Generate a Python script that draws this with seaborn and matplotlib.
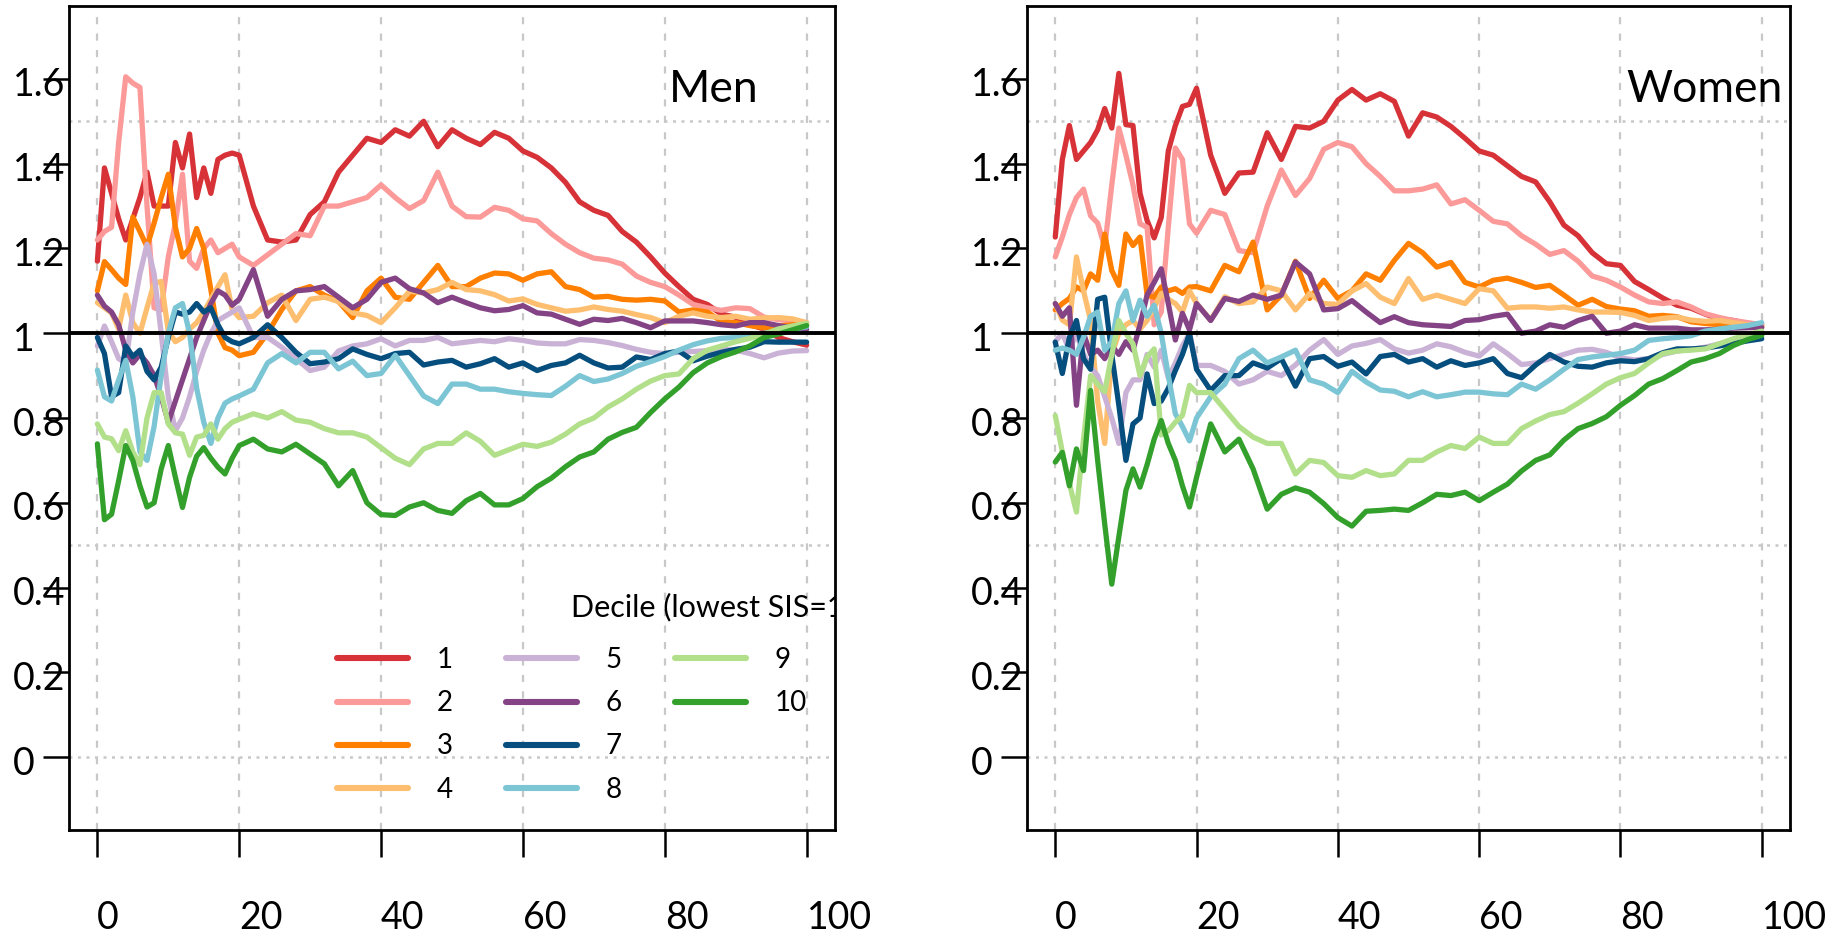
import matplotlib
matplotlib.use("Agg")
import matplotlib.pyplot as plt
import seaborn as sns
import pandas as pd
from matplotlib.lines import Line2D
from matplotlib.transforms import ScaledTranslation

# ---------------- data ----------------
pct = list(range(0, 21)) + list(range(22, 101, 2))

deciles = ["1", "2", "3", "4", "5", "6", "7", "8", "9", "10"]
colors = ["#D63238", "#FB9A99", "#FF7F00", "#FDBF6F", "#CAB2D6",
          "#834385", "#054E7D", "#7CC5D5", "#B2DF8A", "#33A02C"]

men_d1 = [1.17, 1.39, 1.33, 1.27, 1.22, 1.27, 1.32, 1.38, 1.30, 1.30, 1.30, 1.45, 1.39, 1.47, 1.32, 1.39, 1.33, 1.41, 1.42, 1.425, 1.42,
          1.30, 1.22, 1.215, 1.22, 1.28, 1.31, 1.38, 1.42, 1.46, 1.45,
          1.48, 1.465, 1.50, 1.44, 1.48, 1.46, 1.445, 1.474, 1.46, 1.43,
          1.415, 1.39, 1.356, 1.31, 1.29, 1.278, 1.24, 1.215, 1.18, 1.142,
          1.11, 1.08, 1.068, 1.045, 1.038, 1.02, 1.01, 0.99, 0.98, 0.972]
men_d2 = [1.22, 1.24, 1.25, 1.45, 1.605, 1.59, 1.58, 1.30, 1.06, 1.055, 1.18, 1.26, 1.375, 1.17, 1.153, 1.20, 1.22, 1.19, 1.20, 1.21, 1.18,
          1.16, 1.185, 1.21, 1.235, 1.23, 1.30, 1.30, 1.31, 1.32, 1.35,
          1.32, 1.294, 1.313, 1.38, 1.30, 1.275, 1.274, 1.297, 1.29, 1.27,
          1.265, 1.235, 1.21, 1.19, 1.177, 1.173, 1.163, 1.135, 1.12, 1.11,
          1.09, 1.068, 1.06, 1.054, 1.06, 1.058, 1.038, 1.032, 1.029, 1.025]
men_d3 = [1.10, 1.169, 1.15, 1.13, 1.115, 1.274, 1.24, 1.204, 1.26, 1.32, 1.375, 1.25, 1.18, 1.20, 1.247, 1.20, 1.103, 1.0, 0.966, 0.96, 0.947,
          0.955, 1.0, 1.056, 1.10, 1.11, 1.09, 1.075, 1.037, 1.10, 1.13,
          1.085, 1.08, 1.12, 1.16, 1.11, 1.11, 1.13, 1.142, 1.14, 1.125,
          1.14, 1.145, 1.11, 1.103, 1.085, 1.087, 1.08, 1.078, 1.08, 1.076,
          1.05, 1.055, 1.05, 1.028, 1.025, 1.018, 1.013, 1.017, 1.02, 1.02]
men_d4 = [1.072, 1.06, 1.048, 1.01, 1.09, 1.025, 1.0, 1.06, 1.118, 1.122, 1.005, 0.98, 0.99, 1.01, 1.025, 1.05, 1.08, 1.11, 1.138, 1.056, 1.037,
          1.04, 1.072, 1.09, 1.03, 1.08, 1.085, 1.075, 1.048, 1.042, 1.025,
          1.06, 1.099, 1.095, 1.103, 1.12, 1.103, 1.10, 1.091, 1.076, 1.081,
          1.068, 1.06, 1.052, 1.055, 1.062, 1.056, 1.052, 1.044, 1.037, 1.025,
          1.04, 1.048, 1.04, 1.037, 1.04, 1.033, 1.036, 1.037, 1.034, 1.025]
men_d5 = [0.97, 1.017, 0.98, 0.94, 0.93, 1.05, 1.14, 1.21, 1.14, 1.0, 0.85, 0.77, 0.80, 0.85, 0.91, 0.96, 1.0, 1.03, 1.04, 1.05, 1.06,
          0.99, 0.99, 0.967, 0.94, 0.912, 0.92, 0.958, 0.97, 0.975, 0.987,
          0.97, 0.983, 0.983, 0.99, 0.975, 0.979, 0.983, 0.98, 0.987, 0.983,
          0.977, 0.975, 0.975, 0.985, 0.983, 0.978, 0.971, 0.962, 0.955, 0.952,
          0.955, 0.957, 0.959, 0.962, 0.96, 0.952, 0.942, 0.953, 0.958, 0.959]
men_d6 = [1.09, 1.064, 1.05, 1.02, 0.96, 0.93, 0.95, 0.93, 0.90, 0.85, 0.79, 0.84, 0.89, 0.94, 0.99, 1.03, 1.07, 1.10, 1.09, 1.066, 1.08,
          1.15, 1.04, 1.08, 1.10, 1.103, 1.11, 1.085, 1.06, 1.08, 1.12,
          1.13, 1.105, 1.095, 1.072, 1.085, 1.072, 1.06, 1.053, 1.056, 1.065,
          1.048, 1.045, 1.033, 1.021, 1.033, 1.03, 1.035, 1.025, 1.013, 1.029,
          1.029, 1.029, 1.025, 1.02, 1.017, 1.025, 1.025, 1.018, 1.013, 1.009]
men_d7 = [0.99, 0.952, 0.85, 0.86, 0.97, 0.945, 0.96, 0.91, 0.89, 0.92, 0.99, 1.05, 1.045, 1.05, 1.07, 1.05, 1.06, 1.02, 0.99, 0.98, 0.975,
          0.99, 1.02, 0.99, 0.955, 0.928, 0.932, 0.94, 0.963, 0.95, 0.94,
          0.952, 0.955, 0.925, 0.932, 0.936, 0.92, 0.928, 0.94, 0.92, 0.93,
          0.912, 0.924, 0.93, 0.948, 0.93, 0.918, 0.92, 0.944, 0.938, 0.952,
          0.958, 0.935, 0.946, 0.955, 0.962, 0.967, 0.98, 0.979, 0.979, 0.979]
men_d8 = [0.913, 0.85, 0.84, 0.89, 0.936, 0.85, 0.72, 0.70, 0.78, 0.90, 1.0, 1.06, 1.07, 1.0, 0.87, 0.79, 0.74, 0.80, 0.835, 0.845, 0.852,
          0.868, 0.93, 0.952, 0.93, 0.955, 0.955, 0.916, 0.934, 0.90, 0.905,
          0.948, 0.90, 0.852, 0.834, 0.88, 0.88, 0.868, 0.868, 0.862, 0.858,
          0.855, 0.853, 0.875, 0.90, 0.886, 0.892, 0.905, 0.922, 0.933, 0.945,
          0.96, 0.973, 0.982, 0.988, 0.99, 0.996, 1.0, 1.005, 1.01, 1.015]
men_d9 = [0.786, 0.755, 0.751, 0.723, 0.77, 0.72, 0.69, 0.80, 0.86, 0.86, 0.786, 0.765, 0.762, 0.712, 0.755, 0.759, 0.786, 0.75, 0.775, 0.79, 0.797,
          0.81, 0.80, 0.815, 0.795, 0.79, 0.775, 0.765, 0.765, 0.755, 0.73,
          0.705, 0.69, 0.727, 0.74, 0.74, 0.765, 0.745, 0.712, 0.725, 0.738,
          0.733, 0.743, 0.762, 0.786, 0.80, 0.826, 0.845, 0.868, 0.887, 0.90,
          0.904, 0.94, 0.96, 0.97, 0.98, 0.988, 0.998, 1.01, 1.017, 1.023]
men_d10 = [0.739, 0.56, 0.573, 0.652, 0.735, 0.70, 0.64, 0.59, 0.60, 0.68, 0.735, 0.66, 0.589, 0.66, 0.71, 0.73, 0.705, 0.684, 0.668, 0.705, 0.735,
           0.75, 0.727, 0.72, 0.738, 0.715, 0.692, 0.64, 0.676, 0.60, 0.572,
           0.57, 0.59, 0.60, 0.582, 0.575, 0.605, 0.622, 0.595, 0.595, 0.61,
           0.638, 0.658, 0.685, 0.708, 0.72, 0.75, 0.766, 0.778, 0.813, 0.845,
           0.873, 0.907, 0.93, 0.945, 0.956, 0.97, 0.99, 0.998, 1.008, 1.018]

women_d1 = [1.227, 1.41, 1.49, 1.41, 1.43, 1.45, 1.48, 1.53, 1.484, 1.613, 1.492, 1.49, 1.33, 1.266, 1.225, 1.273, 1.43, 1.49, 1.535, 1.54, 1.578,
            1.42, 1.33, 1.378, 1.38, 1.473, 1.41, 1.488, 1.484, 1.50, 1.55,
            1.575, 1.55, 1.565, 1.547, 1.465, 1.52, 1.51, 1.488, 1.46, 1.43,
            1.42, 1.395, 1.37, 1.357, 1.31, 1.255, 1.23, 1.19, 1.164, 1.16,
            1.122, 1.103, 1.083, 1.066, 1.059, 1.045, 1.034, 1.03, 1.023, 1.02]
women_d2 = [1.18, 1.227, 1.28, 1.32, 1.34, 1.277, 1.26, 1.203, 1.35, 1.484, 1.42, 1.35, 1.258, 1.25, 1.02, 1.05, 1.25, 1.437, 1.41, 1.258, 1.236,
            1.29, 1.28, 1.195, 1.19, 1.30, 1.385, 1.325, 1.365, 1.434, 1.45,
            1.44, 1.40, 1.37, 1.336, 1.336, 1.34, 1.35, 1.305, 1.315, 1.29,
            1.264, 1.258, 1.23, 1.21, 1.186, 1.195, 1.17, 1.135, 1.125, 1.109,
            1.09, 1.074, 1.07, 1.074, 1.062, 1.046, 1.037, 1.03, 1.025, 1.02]
women_d3 = [1.055, 1.07, 1.082, 1.109, 1.10, 1.14, 1.125, 1.234, 1.148, 1.113, 1.234, 1.207, 1.227, 1.09, 1.085, 1.109, 1.10, 1.105, 1.094, 1.109, 1.11,
            1.10, 1.16, 1.145, 1.215, 1.055, 1.09, 1.17, 1.082, 1.125, 1.082,
            1.10, 1.14, 1.125, 1.172, 1.212, 1.19, 1.156, 1.167, 1.12, 1.109,
            1.125, 1.13, 1.12, 1.108, 1.113, 1.09, 1.066, 1.08, 1.063, 1.057,
            1.053, 1.04, 1.042, 1.039, 1.027, 1.023, 1.02, 1.018, 1.015, 1.014]
women_d4 = [1.07, 1.031, 1.02, 1.18, 1.10, 1.03, 0.84, 0.74, 0.95, 1.0, 1.02, 1.03, 1.01, 1.03, 1.06, 1.094, 1.08, 1.07, 1.05, 1.10, 1.07,
            1.031, 1.086, 1.07, 1.074, 1.109, 1.10, 1.055, 1.094, 1.07, 1.068,
            1.10, 1.117, 1.085, 1.07, 1.129, 1.08, 1.09, 1.08, 1.07, 1.105,
            1.10, 1.059, 1.062, 1.062, 1.059, 1.062, 1.055, 1.05, 1.05, 1.049,
            1.042, 1.03, 1.035, 1.038, 1.031, 1.028, 1.03, 1.025, 1.02, 1.017]
women_d5 = [0.98, 1.0, 0.96, 1.0, 0.95, 0.92, 0.90, 0.85, 0.80, 0.74, 0.86, 0.89, 0.89, 0.95, 0.92, 0.96, 0.895, 0.93, 0.97, 1.0, 0.924,
            0.924, 0.91, 0.88, 0.89, 0.91, 0.90, 0.925, 0.96, 0.985, 0.95,
            0.97, 0.976, 0.985, 0.963, 0.953, 0.96, 0.975, 0.968, 0.955, 0.946,
            0.975, 0.952, 0.926, 0.93, 0.94, 0.95, 0.96, 0.962, 0.955, 0.942,
            0.937, 0.94, 0.95, 0.958, 0.962, 0.967, 0.975, 0.983, 0.99, 0.995]
women_d6 = [1.07, 1.04, 1.06, 0.83, 1.0, 0.95, 0.96, 0.94, 0.97, 0.95, 0.98, 0.96, 1.02, 1.09, 1.12, 1.152, 1.07, 0.984, 1.047, 1.008, 1.07,
            1.03, 1.082, 1.075, 1.09, 1.08, 1.09, 1.168, 1.14, 1.055, 1.058,
            1.077, 1.05, 1.025, 1.039, 1.025, 1.02, 1.018, 1.016, 1.03, 1.032,
            1.04, 1.045, 1.0, 1.005, 1.02, 1.014, 1.03, 1.04, 1.0, 1.005,
            1.02, 1.012, 1.012, 1.012, 1.008, 1.008, 1.009, 1.012, 1.013, 1.014]
women_d7 = [0.979, 0.905, 0.99, 1.03, 0.94, 0.915, 1.08, 1.085, 0.95, 0.83, 0.70, 0.786, 0.80, 0.904, 0.834, 0.84, 0.87, 0.912, 0.95, 0.999, 0.915,
            0.865, 0.90, 0.90, 0.93, 0.918, 0.94, 0.875, 0.94, 0.945, 0.922,
            0.932, 0.904, 0.945, 0.95, 0.932, 0.94, 0.92, 0.935, 0.924, 0.93,
            0.94, 0.905, 0.895, 0.925, 0.95, 0.932, 0.922, 0.92, 0.93, 0.935,
            0.933, 0.94, 0.954, 0.963, 0.963, 0.965, 0.97, 0.976, 0.982, 0.987]
women_d8 = [0.96, 0.965, 0.96, 0.95, 0.99, 1.04, 1.05, 0.96, 0.98, 1.07, 1.10, 1.03, 1.078, 1.04, 1.066, 1.0, 0.90, 0.81, 0.78, 0.746, 0.80,
            0.85, 0.88, 0.94, 0.96, 0.93, 0.944, 0.96, 0.89, 0.88, 0.86,
            0.91, 0.885, 0.866, 0.863, 0.85, 0.862, 0.85, 0.855, 0.861, 0.861,
            0.857, 0.855, 0.88, 0.868, 0.89, 0.915, 0.938, 0.944, 0.948, 0.952,
            0.96, 0.983, 0.987, 0.99, 0.994, 1.005, 1.01, 1.014, 1.018, 1.025]
women_d9 = [0.806, 0.72, 0.645, 0.578, 0.75, 0.9, 0.88, 0.862, 0.95, 1.03, 1.0, 0.975, 0.90, 0.944, 0.963, 0.76, 0.77, 0.79, 0.806, 0.877, 0.86,
            0.86, 0.82, 0.78, 0.755, 0.74, 0.74, 0.668, 0.70, 0.695, 0.664,
            0.66, 0.676, 0.664, 0.668, 0.70, 0.70, 0.72, 0.735, 0.728, 0.755,
            0.74, 0.74, 0.775, 0.793, 0.808, 0.815, 0.835, 0.857, 0.88, 0.895,
            0.905, 0.93, 0.952, 0.958, 0.96, 0.963, 0.975, 0.987, 0.997, 1.005]
women_d10 = [0.696, 0.719, 0.64, 0.727, 0.676, 0.865, 0.70, 0.55, 0.408, 0.52, 0.629, 0.68, 0.637, 0.69, 0.75, 0.794, 0.74, 0.70, 0.64, 0.59, 0.66,
             0.786, 0.72, 0.75, 0.68, 0.585, 0.62, 0.635, 0.625, 0.598, 0.565,
             0.545, 0.58, 0.582, 0.585, 0.582, 0.60, 0.62, 0.617, 0.625, 0.605,
             0.625, 0.644, 0.675, 0.70, 0.713, 0.748, 0.775, 0.787, 0.803, 0.83,
             0.853, 0.88, 0.893, 0.912, 0.932, 0.94, 0.952, 0.971, 0.985, 0.995]

men_series = [men_d1, men_d2, men_d3, men_d4, men_d5, men_d6, men_d7, men_d8, men_d9, men_d10]
women_series = [women_d1, women_d2, women_d3, women_d4, women_d5, women_d6, women_d7, women_d8, women_d9, women_d10]

ytick_vals = [0, 0.2, 0.4, 0.6, 0.8, 1.0, 1.2, 1.4, 1.6]
ytick_labels = ["0", "0.2", "0.4", "0.6", "0.8", "1", "1.2", "1.4", "1.6"]
xtick_vals = [0, 20, 40, 60, 80, 100]
xtick_labels = ["0", "20", "40", "60", "80", "100"]
hgrid_vals = [0, 0.5, 1.5]
panel_titles = ["Men", "Women"]
legend_title = "Decile (lowest SIS=1)"


def long_frame(series_list):
    rows = []
    for dec, vals in zip(deciles, series_list):
        for xv, yv in zip(pct, vals):
            rows.append({"pct": xv, "ratio": yv, "decile": dec})
    return pd.DataFrame(rows)


# ---------------- style ----------------
sns.set_theme(style="white")
plt.rcParams["font.family"] = ["Lato", "DejaVu Sans"]
plt.rcParams["font.weight"] = "normal"
plt.rcParams["text.color"] = "black"
plt.rcParams["xtick.color"] = "black"
plt.rcParams["ytick.color"] = "black"
plt.rcParams["xtick.labelcolor"] = "black"
plt.rcParams["ytick.labelcolor"] = "black"

DPI = 100
fig = plt.figure(figsize=(18.34, 9.36), dpi=DPI)
W, H = 1834, 936
ax_boxes = [(69, 835), (1027, 1790)]
top_px, bot_px = 6, 830

for i, (series_list, title) in enumerate(zip([men_series, women_series], panel_titles)):
    l, r = ax_boxes[i]
    ax = fig.add_axes([l / W, (H - bot_px) / H, (r - l) / W, (bot_px - top_px) / H])
    df = long_frame(series_list)

    for xv in xtick_vals:
        ax.axvline(xv, color="#C8C8C8", lw=1.6, ls=(0, (3.2, 4.2)), zorder=0)
    for yv in hgrid_vals:
        ax.axhline(yv, color="#C8C8C8", lw=1.8, ls=(0, (1.2, 2.2)), zorder=0)

    sns.lineplot(data=df, x="pct", y="ratio", hue="decile", hue_order=deciles,
                 palette=colors, ax=ax, legend=False, linewidth=3.8, estimator=None,
                 zorder=2)
    ax.axhline(1.0, color="black", lw=2.8, zorder=4)

    ax.set_xlim(-4, 104)
    ax.set_ylim(-0.172, 1.772)
    ax.set_xlabel("")
    ax.set_ylabel("")
    ax.set_xticks(xtick_vals)
    ax.set_xticklabels(xtick_labels)
    ax.set_yticks(ytick_vals)
    ax.set_yticklabels(ytick_labels)
    ax.tick_params(axis="y", direction="out", length=18.7, width=1.8,
                   pad=21.6, labelsize=27, colors="black", left=True)
    ax.tick_params(axis="x", direction="out", length=19.4, width=1.8,
                   pad=31, labelsize=27, colors="black", bottom=True)
    for lab in ax.get_xticklabels():
        lab.set_ha("left")
    off = ScaledTranslation(0, -3 / DPI, fig.dpi_scale_trans)
    for lab in ax.get_yticklabels():
        lab.set_ha("left")
        lab.set_transform(lab.get_transform() + off)

    for sp in ax.spines.values():
        sp.set_visible(True)
        sp.set_color("black")
        sp.set_linewidth(2.0)

    xr = 93.2 if i == 0 else 102.9
    ax.text(xr, 1.546, title, fontsize=32, ha="right", va="baseline",
            color="black", zorder=6)

    if i == 0:
        ax.text(66.8, 0.333, legend_title, fontsize=22, ha="left",
                va="baseline", color="black", clip_on=True, zorder=6)
        handles = [Line2D([0], [0], color=c, lw=4.4, solid_capstyle="round")
                   for c in colors]
        labels = list(deciles)
        handles += [Line2D([0], [0], color="none", lw=0)] * 2
        labels += ["", ""]
        leg = ax.legend(handles, labels, ncol=3, frameon=False,
                        loc="upper left",
                        bbox_to_anchor=((337 - 69) / (835 - 69), (830 - 647) / 824),
                        borderaxespad=0, borderpad=0, fontsize=20,
                        handlelength=2.55, handletextpad=1.05,
                        columnspacing=1.9, labelspacing=0.62)
        for t in leg.get_texts():
            t.set_color("black")

fig.savefig("out.png", dpi=DPI)
